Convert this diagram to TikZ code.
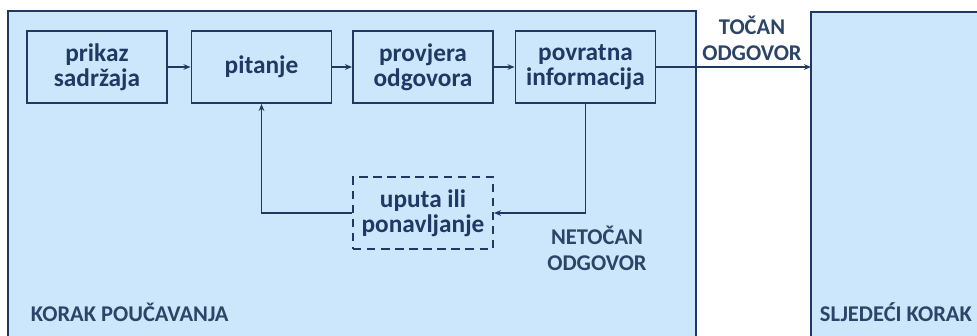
\documentclass[tikz,border=0pt]{standalone}
\usepackage{fontspec}
\setmainfont{Carlito}
\usepackage{xcolor}
\usetikzlibrary{arrows.meta, positioning}

\definecolor{navy}{HTML}{1F3864}
\definecolor{labelnavy}{HTML}{2B4468}
\definecolor{paleblue}{HTML}{CCE7FB}

\tikzset{
  stage/.style={draw=navy, fill=paleblue, line width=1.3pt},
  stepbox/.style={draw=navy, line width=1.3pt, minimum width=3.5cm, minimum height=1.8cm,
    inner sep=1pt, align=center, text=navy, font=\fontsize{18}{18}\selectfont\bfseries},
  flow/.style={draw=navy, line width=0.9pt, -{Stealth[length=5pt, width=4pt]}},
  caption/.style={text=labelnavy, align=center, font=\fontsize{16}{18.5}\selectfont\bfseries}
}

\begin{document}
\begin{tikzpicture}[x=0.025cm, y=-0.025cm]
  \useasboundingbox (0,0) rectangle (977,335);

  % Outer stages
  \fill[white] (0,0) rectangle (977,335);
  \draw[stage] (8,11) rectangle (696,338);
  \draw[stage] (811,12) rectangle (982,338);
  \node[caption, anchor=west] (korak) at (26,312) {KORAK POUČAVANJA};
  \node[caption, anchor=west] (sljedeci) at (815,312) {SLJEDEĆI KORAK};
  \coordinate (next) at (811,67);

  % Main loop
  \node[stepbox] (prikaz) at (97,67) {prikaz\\sadržaja};
  \node[stepbox] (pitanje) at (261.5,67) {pitanje};
  \node[stepbox] (provjera) at (423,67) {provjera\\odgovora};
  \node[stepbox] (povratna) at (585.5,67) {povratna\\informacija};
  \node[stepbox, dashed, dash pattern=on 6pt off 4pt] (uputa) at (423,213) {uputa ili\\ponavljanje};

  % Connectors
  \draw[flow] (prikaz) -- (pitanje);
  \draw[flow] (pitanje) -- (provjera);
  \draw[flow] (provjera) -- (povratna);
  \draw[flow] (povratna) -- (next);
  \draw[flow] (povratna.south) |- (uputa.east);
  \draw[flow] (uputa.west) -| (pitanje.south);

  % Answer labels
  \node[caption] (tocan) at (752,38) {TOČAN\\ODGOVOR};
  \node[caption] (netocan) at (597,248) {NETOČAN\\ODGOVOR};
\end{tikzpicture}
\end{document}
